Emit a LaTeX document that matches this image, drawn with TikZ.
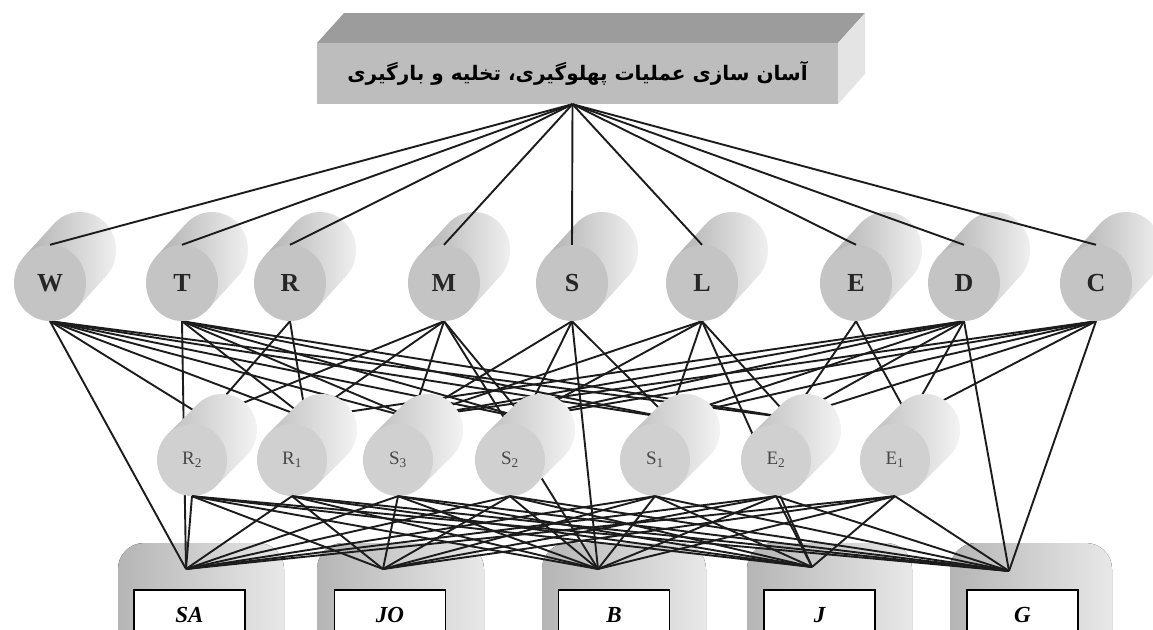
\documentclass[tikz,border=0pt]{standalone}
\usepackage{fontspec}
\setmainfont{Liberation Serif}
\newfontfamily\arabicfont[Script=Arabic]{DejaVu Sans}
\TeXXeTstate=1
\usetikzlibrary{shapes.geometric,calc}
\definecolor{linkc}{HTML}{1C1C1C}
\definecolor{twofront}{HTML}{C4C4C4}
\definecolor{threefront}{HTML}{D0D0D0}
\definecolor{goalfront}{HTML}{BDBDBD}
\definecolor{goaltop}{HTML}{9C9C9C}
\definecolor{goalside}{HTML}{E4E4E4}
\tikzset{
  link/.style={draw=linkc, line width=1.9pt},
  fronttwo/.style={ellipse, fill=twofront, minimum width=72pt, minimum height=76pt, inner sep=0pt,
    font=\fontsize{26}{26}\selectfont\bfseries, text=black!85},
  bodytwo/.style={left color=gray!62, right color=gray!10},
  frontthree/.style={ellipse, fill=threefront, minimum width=70pt, minimum height=72pt, inner sep=0pt,
    font=\fontsize{19}{19}\selectfont, text=black!72},
  bodythree/.style={left color=gray!50, right color=gray!8},
  altshade/.style={left color=gray!58, right color=gray!18, rounded corners=26pt},
  altbox/.style={draw=black, line width=1.3pt, fill=white, minimum width=111pt, minimum height=50pt,
    inner sep=0pt, font=\fontsize{23}{23}\selectfont\bfseries\itshape},
  goalbox/.style={fill=goalfront, minimum width=521pt, minimum height=61pt, inner sep=0pt}
}
\newcommand\cylTwo[3]{%
  \path[bodytwo] (#2,283) ++(222.3:36 and 38) -- ++(30,-33)
    arc[start angle=222.3, end angle=402.3, x radius=36, y radius=38] -- ++(-30,33) -- cycle;
  \node[fronttwo] (#1) at (#2,283) {#3};}
\newcommand\cylThree[3]{%
  \path[bodythree] (#2,460) ++(225:35 and 36) -- ++(30,-30)
    arc[start angle=225, end angle=405, x radius=35, y radius=36] -- ++(-30,30) -- cycle;
  \node[frontthree] (#1) at (#2,460) {#3};}
\begin{document}
\begin{tikzpicture}[x=1pt,y=-1pt]
\useasboundingbox (0,0) rectangle (1153,629);
\clip (0,0) rectangle (1153,629);
\fill[white] (0,0) rectangle (1153,629);

% attachment points of the lower layers (inside the cylinder bodies)
\foreach \n/\x in {R2/192,R1/292,S3/398,S2/510,S1/655,E2/776,E1/895}{
  \coordinate (\n t) at ({\x+14},418);}
\foreach \n/\x/\y in {SA/186/569,JO/383/569,B/598/569,J/812/567,G/1009/571}{
  \coordinate (\n a) at (\x,\y);}

% grey blocks behind the alternatives
\fill[altshade] (118,543) rectangle (284,680);
\fill[altshade] (317,543) rectangle (484,680);
\fill[altshade] (542,543) rectangle (706,680);
\fill[altshade] (747,543) rectangle (912,680);
\fill[altshade] (950,543) rectangle (1112,680);

% anchors of the level-2 cylinders (drawn later)
\path (50,283) node[ellipse,minimum width=72pt,minimum height=76pt] (W) {}
      (182,283) node[ellipse,minimum width=72pt,minimum height=76pt] (T) {}
      (290,283) node[ellipse,minimum width=72pt,minimum height=76pt] (R) {}
      (444,283) node[ellipse,minimum width=72pt,minimum height=76pt] (M) {}
      (572,283) node[ellipse,minimum width=72pt,minimum height=76pt] (S) {}
      (702,283) node[ellipse,minimum width=72pt,minimum height=76pt] (L) {}
      (856,283) node[ellipse,minimum width=72pt,minimum height=76pt] (E) {}
      (964,283) node[ellipse,minimum width=72pt,minimum height=76pt] (D) {}
      (1096,283) node[ellipse,minimum width=72pt,minimum height=76pt] (C) {};

% level 2 -> level 3 and direct links
\foreach \a/\b in {W/R2,W/R1,W/S3,W/S2,W/S1,W/E2,
                   T/R1,T/S3,T/S2,T/S1,T/E2,
                   R/R2,R/R1,
                   M/R2,M/R1,M/S3,M/S2,
                   S/S3,S/S2,S/S1,
                   L/S3,L/S2,L/S1,L/E2,
                   E/E2,E/E1,
                   D/R1,D/S3,D/S2,D/S1,D/E2,D/E1,
                   C/S3,C/S2,C/S1,C/E2,C/E1}{
  \draw[link] (\a.south) -- (\b t);}
\foreach \a/\b in {W/SA,T/SA,M/B,S/B,L/J,D/G,C/G}{
  \draw[link] (\a.south) -- (\b a);}

% level-3 cylinders
\cylThree{R2}{192}{R\textsubscript{2}}
\cylThree{R1}{292}{R\textsubscript{1}}
\cylThree{S3}{398}{S\textsubscript{3}}
\cylThree{S2}{510}{S\textsubscript{2}}
\cylThree{S1}{655}{S\textsubscript{1}}
\cylThree{E2}{776}{E\textsubscript{2}}
\cylThree{E1}{895}{E\textsubscript{1}}

% level 3 -> alternatives
\foreach \a in {R2,R1,S3,S2,S1,E2,E1}{
  \foreach \b in {SA,JO,B,J,G}{
    \draw[link] (\a.south) -- (\b a);}}

% level-2 cylinders
\cylTwo{W}{50}{W}
\cylTwo{T}{182}{T}
\cylTwo{R}{290}{R}
\cylTwo{M}{444}{M}
\cylTwo{S}{572}{S}
\cylTwo{L}{702}{L}
\cylTwo{E}{856}{E}
\cylTwo{D}{964}{D}
\cylTwo{C}{1096}{C}

% goal box
\fill[goaltop] (317,43) -- (344,13) -- (865,13) -- (838,43) -- cycle;
\fill[goalside] (838,43) -- (865,13) -- (865,74) -- (838,104) -- cycle;
\node[goalbox] (goal) at (577.5,73.5)
  {\arabicfont\bfseries\fontsize{20}{20}\selectfont\beginR آسان سازی عملیات پهلوگیری، تخلیه و بارگیری\endR};
\coordinate (goalp) at ([xshift=-5pt]goal.south);
\foreach \b in {W,T,R,M,S,L,E,D,C}{
  \draw[link] (goalp) -- (\b.north);}

% alternatives
\node[altbox] (SA) at (189.5,615) {SA};
\node[altbox] (JO) at (390,615) {JO};
\node[altbox] (B) at (614,615) {B};
\node[altbox] (J) at (819.5,615) {J};
\node[altbox] (G) at (1022.5,615) {G};
\end{tikzpicture}
\end{document}
